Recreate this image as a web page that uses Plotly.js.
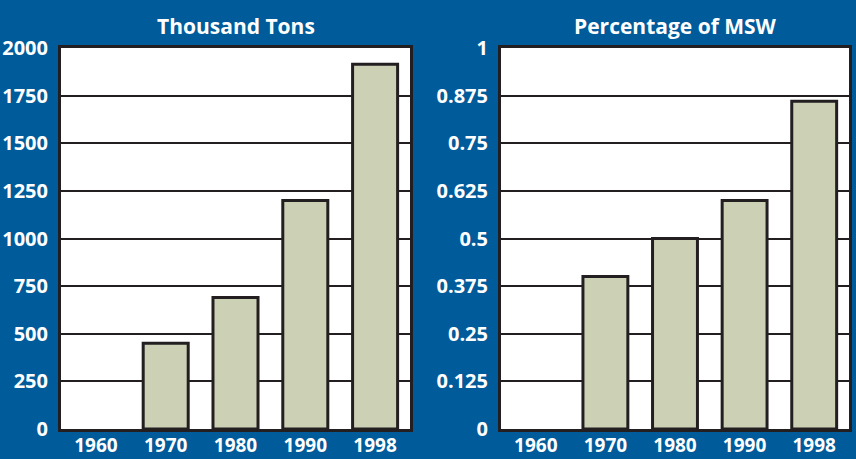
<!DOCTYPE html>
<html>
<head>
<meta charset="utf-8">
<script src="https://cdn.plot.ly/plotly-3.0.1.min.js"></script>
<style>
  html, body { margin: 0; padding: 0; background: #005b9b; }
  #chart { width: 856px; height: 459px; }
</style>
</head>
<body>
<div id="chart"></div>
<script>
// ---- data ----
const years = ['1960', '1970', '1980', '1990', '1998'];
const thousandTons = [0, 450, 690, 1200, 1915];
const pctMSW = [0, 0.40, 0.50, 0.60, 0.86];
const leftTitle = 'Thousand Tons';
const rightTitle = 'Percentage of MSW';

// ---- styling ----
const BG = '#005b9b';
const BAR = '#ccd1b6';
const DARK = '#231f20';
const FONT = 'Open Sans, Noto Sans, sans-serif';

function barTrace(y, xa, ya) {
  return {
    type: 'bar', x: years, y: y, xaxis: xa, yaxis: ya,
    marker: {
      color: BAR,
      line: { color: DARK, width: y.map(v => (v > 0 ? 3 : 0)) }
    },
    hoverinfo: 'x+y'
  };
}

const traces = [
  barTrace(thousandTons, 'x', 'y'),
  barTrace(pctMSW, 'x2', 'y2')
];

const yTickFont = { family: FONT, size: 20, color: '#ffffff', weight: 'bold' };
const xTickFont = { family: FONT, size: 19, color: '#ffffff', weight: 'bold' };

function xAxis(domain, anchor) {
  return {
    domain: domain, anchor: anchor, type: 'category',
    showgrid: false, zeroline: false,
    showline: true, mirror: true, linecolor: DARK, linewidth: 3,
    ticks: '', ticklabelstandoff: -3, tickfont: xTickFont, fixedrange: true
  };
}
function yAxis(domain, anchor, range, dtick) {
  return {
    domain: domain, anchor: anchor, range: range, dtick: dtick, tick0: 0,
    showgrid: true, gridcolor: DARK, gridwidth: 2, zeroline: false,
    showline: true, mirror: true, linecolor: DARK, linewidth: 3,
    ticks: '', ticklabelstandoff: 6, tickfont: yTickFont, fixedrange: true
  };
}

const yDom = [30 / 459, 411 / 459];
const layout = {
  width: 856, height: 459,
  paper_bgcolor: BG, plot_bgcolor: '#ffffff',
  margin: { l: 0, r: 0, t: 0, b: 0 },
  showlegend: false,
  bargap: 0.355,
  font: { family: FONT, color: '#ffffff' },
  xaxis: xAxis([61 / 856, 410 / 856], 'y'),
  yaxis: yAxis(yDom, 'x', [0, 2000], 250),
  xaxis2: xAxis([501 / 856, 849 / 856], 'y2'),
  yaxis2: yAxis(yDom, 'x2', [0, 1], 0.125),
  annotations: [
    { text: leftTitle, xref: 'paper', yref: 'paper', x: 235.5 / 856, y: (459 - 26) / 459,
      xanchor: 'center', yanchor: 'middle', showarrow: false,
      font: { family: FONT, size: 21, color: '#ffffff', weight: 'bold' } },
    { text: rightTitle, xref: 'paper', yref: 'paper', x: 675 / 856, y: (459 - 26) / 459,
      xanchor: 'center', yanchor: 'middle', showarrow: false,
      font: { family: FONT, size: 21, color: '#ffffff', weight: 'bold' } }
  ]
};

Plotly.newPlot('chart', traces, layout, { displayModeBar: false, staticPlot: true });
</script>
</body>
</html>
